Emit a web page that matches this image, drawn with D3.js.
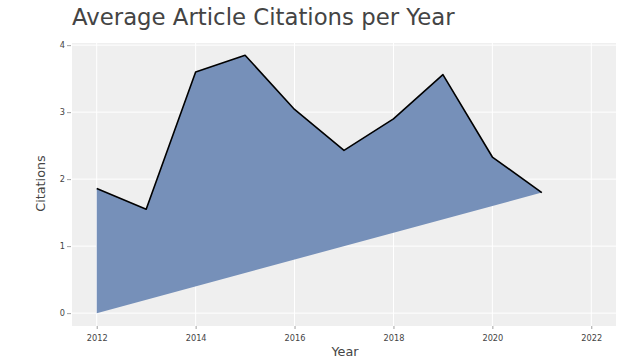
<!DOCTYPE html>
<html><head><meta charset="utf-8">
<script src="https://cdn.jsdelivr.net/npm/d3@7/dist/d3.min.js"></script>
<style>body{margin:0;background:#fff}svg{display:block}</style>
</head><body><svg id="c" width="623" height="359"></svg>
<script>
const years = [2012, 2013, 2014, 2015, 2016, 2017, 2018, 2019, 2020, 2021];
const citations = [1.86, 1.55, 3.60, 3.85, 3.04, 2.43, 2.90, 3.56, 2.33, 1.80];
const xTicks = [2012, 2014, 2016, 2018, 2020, 2022];
const yTicks = [0, 1, 2, 3, 4];

const svg = d3.select("#c");
const W = 623, H = 359;
const m = {l: 72, r: 7, t: 43, b: 33};
const x = d3.scaleLinear().domain([2011.5, 2022.5]).range([m.l, W - m.r]);
const y = d3.scaleLinear().domain([-0.192, 4.032]).range([H - m.b, m.t]);
const font = "'DejaVu Sans', sans-serif";

svg.append("rect").attr("x", m.l).attr("y", m.t)
  .attr("width", W - m.r - m.l).attr("height", H - m.b - m.t).attr("fill", "#efefef");

// grid
svg.append("g").selectAll("line").data(xTicks).join("line")
  .attr("x1", d => x(d)).attr("x2", d => x(d)).attr("y1", m.t).attr("y2", H - m.b)
  .attr("stroke", "#fff").attr("stroke-width", 1);
svg.append("g").selectAll("line").data(yTicks).join("line")
  .attr("y1", d => y(d)).attr("y2", d => y(d)).attr("x1", m.l).attr("x2", W - m.r)
  .attr("stroke", "#fff").attr("stroke-width", 1);

// axes
const xa = svg.append("g").attr("transform", `translate(0,${H - m.b})`)
  .call(d3.axisBottom(x).tickValues(xTicks).tickFormat(d3.format("d")).tickSize(3).tickPadding(6));
const ya = svg.append("g").attr("transform", `translate(${m.l - 1},0)`)
  .call(d3.axisLeft(y).tickValues(yTicks).tickFormat(d3.format("d")).tickSize(4).tickPadding(2));
[xa, ya].forEach(a => {
  a.select(".domain").remove();
  a.selectAll("line").attr("stroke", "#444").attr("stroke-width", 1).attr("stroke-opacity", 0.5);
  a.selectAll("text").attr("fill", "#444").style("font-family", font).style("font-size", "8.2px");
});

// fill polygon
const pts = [[years[0], 0]].concat(years.map((yr, i) => [yr, citations[i]]));
svg.append("path")
  .attr("d", d3.line().x(d => x(d[0])).y(d => y(d[1]))(pts) + "Z")
  .attr("fill", "#7690b9").attr("stroke", "none");

// line
svg.append("path")
  .attr("d", d3.line().x((d, i) => x(years[i])).y(d => y(d))(citations))
  .attr("fill", "none").attr("stroke", "#000").attr("stroke-width", 1.6)
  .attr("stroke-linejoin", "round");

// titles
svg.append("text").attr("x", 72).attr("y", 25)
  .attr("fill", "#444").style("font-family", font).style("font-size", "22.8px")
  .text("Average Article Citations per Year");
svg.append("text").attr("x", 345).attr("y", 355.5)
  .attr("text-anchor", "middle").attr("fill", "#444")
  .style("font-family", font).style("font-size", "12.8px").text("Year");
svg.append("text").attr("transform", `translate(45,183.5) rotate(-90)`)
  .attr("text-anchor", "middle").attr("fill", "#444")
  .style("font-family", font).style("font-size", "12.8px").text("Citations");
</script></body></html>
